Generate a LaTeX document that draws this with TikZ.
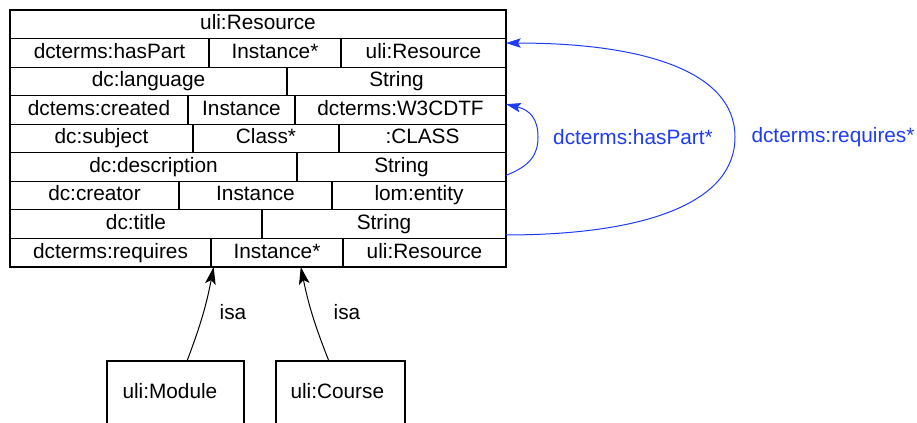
\documentclass[tikz,border=0pt]{standalone}
\usepackage{fontspec}
\setmainfont{Liberation Sans}
\usetikzlibrary{calc,arrows.meta}
\definecolor{relblue}{RGB}{30,60,245}

\tikzset{every picture/.style={line width=0.75pt}}
\tikzset{
  cell/.style={draw, line width=0.85pt, inner sep=0pt, outer sep=0pt, minimum height=21.42pt,
    text height=11pt, text depth=3pt, anchor=north west},
  classbox/.style={draw, line width=0.85pt, inner sep=0pt, outer sep=0pt, minimum height=75pt, anchor=north west},
  isaline/.style={-{Stealth[length=13pt,width=8pt,inset=3pt]}},
  relline/.style={relblue, -{Stealth[length=11pt,width=7pt,inset=2pt]}},
  rellabel/.style={text=relblue},
}

\begin{document}
\begin{tikzpicture}[x=0.75pt,y=0.75pt,yscale=-1,xscale=1,
    every node/.append style={font=\fontsize{15.6pt}{19pt}\selectfont}]
        \useasboundingbox (0,0) rectangle (917,423);

        %Table: uli:Resource
        \node[cell, minimum width=372pt] (head) at (10,10) {uli:Resource};
        %row: hasPart
        \node[cell, minimum width=149.25pt] (hasPartP) at (10,38.56) {dcterms:hasPart};
        \node[cell, minimum width=99pt] (hasPartI) at (209,38.56) {Instance*};
        \node[cell, minimum width=123.75pt] (hasPartR) at (341,38.56) {uli:Resource};
        %row: language
        \node[cell, minimum width=207.75pt] (langP) at (10,67.11) {dc:language};
        \node[cell, minimum width=164.25pt] (langS) at (287,67.11) {String};
        %row: created
        \node[cell, minimum width=133.5pt] (createdP) at (10,95.67) {dctems:created};
        \node[cell, minimum width=80.25pt] (createdI) at (188,95.67) {Instance};
        \node[cell, minimum width=158.25pt] (createdR) at (295,95.67) {dcterms:W3CDTF};
        %row: subject
        \node[cell, minimum width=137.25pt] (subjectP) at (10,124.22) {dc:subject};
        \node[cell, minimum width=109.5pt] (subjectC) at (193,124.22) {Class*};
        \node[cell, minimum width=125.25pt] (subjectR) at (339,124.22) {:CLASS};
        %row: description
        \node[cell, minimum width=215.25pt] (descP) at (10,152.78) {dc:description};
        \node[cell, minimum width=156.75pt] (descS) at (297,152.78) {String};
        %row: creator
        \node[cell, minimum width=126.75pt] (creatorP) at (10,181.33) {dc:creator};
        \node[cell, minimum width=114.75pt] (creatorI) at (179,181.33) {Instance};
        \node[cell, minimum width=130.5pt] (creatorR) at (332,181.33) {lom:entity};
        %row: title
        \node[cell, minimum width=189pt] (titleP) at (10,209.89) {dc:title};
        \node[cell, minimum width=183pt] (titleS) at (262,209.89) {String};
        %row: requires
        \node[cell, minimum width=150.75pt] (reqP) at (10,238.44) {dcterms:requires};
        \node[cell, minimum width=99pt] (reqI) at (211,238.44) {Instance*};
        \node[cell, minimum width=122.25pt] (reqR) at (343,238.44) {uli:Resource};

        %Subclasses
        \node[classbox, minimum width=102.75pt] (module) at (107,361) {};
        \node[anchor=west, inner sep=0pt] (moduleL) at (122,391) {uli:Module};
        \node[classbox, minimum width=96.75pt] (course) at (276,361) {};
        \node[anchor=west, inner sep=0pt] (courseL) at (290,391) {uli:Course};

        %isa arrows
        \draw[isaline] ($(module.north west)!0.584!(module.north east)$) to[bend left=5] ($(reqI.south west)!0.02!(reqI.south east)$);
        \draw[isaline] ($(course.north west)!0.41!(course.north east)$) to[bend right=5] ($(reqI.south west)!0.68!(reqI.south east)$);
        \node (isaM) at (233,312) {isa};
        \node (isaC) at (347,312) {isa};

        %Curve Lines: dcterms:hasPart*
        \draw[relline] ($(descS.south east)+(0,-6)$) .. controls (530,166) and (538,155) .. (538,137) .. controls (538,119) and (530,110) .. ($(createdR.north east)+(0,8.5)$);
        \node[rellabel] (hasPartL) at (633,137) {dcterms:hasPart*};
        %Curve Lines: dcterms:requires*
        \draw[relline] ($(titleS.south east)+(0,-3.5)$) .. controls (640,235) and (735,205) .. (735,137) .. controls (735,70) and (640,43) .. ($(hasPartR.north east)+(0,4.5)$);
        \node[rellabel] (requiresL) at (833,137) {dcterms:requires*};

\end{tikzpicture}
\end{document}
